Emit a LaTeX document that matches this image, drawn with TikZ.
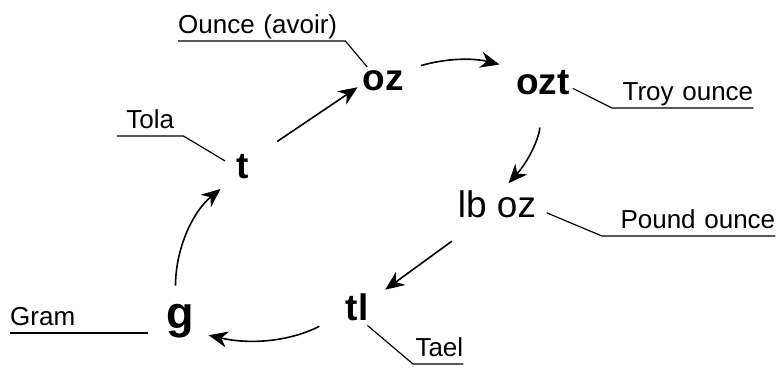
\documentclass[tikz,border=0pt]{standalone}
\usepackage{fontspec}
\setmainfont{Liberation Sans}
\usepackage{tikz}
\usetikzlibrary{arrows.meta}

\begin{document}
\begin{tikzpicture}[x=1pt,y=-1pt,
    unit/.style={font=\fontsize{37}{40}\selectfont\bfseries, inner sep=3pt, anchor=base},
    lbl/.style={font=\fontsize{26}{28}\selectfont, inner xsep=0pt, inner ysep=7pt, text depth=0pt, anchor=south west},
    conv/.style={-{Stealth[length=19pt,width=16pt,inset=6pt]}, line width=1.6pt},
    lead/.style={line width=1.2pt}]
      \useasboundingbox (0,0) rectangle (779,369);
      \node[unit] (oz) at (383,90) {oz};
      \node[unit] (ozt) at (543,95) {ozt};
      \node[unit, font=\fontsize{37}{40}\selectfont] (lboz) at (497,217) {lb oz};
      \node[unit] (tl) at (357,320) {tl};
      \node[unit, font=\fontsize{45}{48}\selectfont\bfseries] (g) at (180,328) {g};
      \node[unit] (t) at (243,178) {t};
      \node[lbl, text width=167pt, align=left] (ounce) at (178,41) {Ounce (avoir)};
      \node[lbl, text width=66pt, align=center] (tola) at (117,136) {Tola};
      \node[lbl, text width=141pt, align=right] (troy) at (612,108) {Troy ounce};
      \node[lbl, text width=173pt, align=right] (pound) at (602,236) {Pound ounce};
      \node[lbl, text width=138pt, align=left] (gram) at (10,333) {Gram};
      \node[lbl, text width=50pt, align=right] (tael) at (413,364) {Tael};
      \draw[lead] (ounce.south west) -- (ounce.south east) -- (oz.140);
      \draw[lead, shorten >=10pt] (tola.south west) -- (tola.south east) -- (t.west);
      \draw[lead] (ozt.-10) -- (troy.south west) -- (troy.south east);
      \draw[lead, shorten <=8pt] (lboz.-8) -- (pound.south west) -- (pound.south east);
      \draw[lead] (gram.south west) -- (gram.south east);
      \draw[lead, shorten <=3pt] (tl.-64) -- (tael.south west) -- (tael.south east);
      \draw[conv, shorten <=30pt, shorten >=2pt] (t.40) -- (oz.194);
      \draw[conv, shorten <=15pt, shorten >=14pt] (oz.24) to[bend left=15] (ozt.153);
      \draw[conv, shorten <=29pt, shorten >=5pt] (ozt.262) to[bend left=20] (lboz.64);
      \draw[conv, shorten <=35pt, shorten >=17pt] (lboz.225) -- (tl.26);
      \draw[conv, shorten <=26pt, shorten >=12pt] (tl.208) to[bend left=20] (g.-35);
      \draw[conv, shorten <=15pt, shorten >=17pt] (g.103) to[bend left=25] (t.232);
    \end{tikzpicture}
\end{document}
